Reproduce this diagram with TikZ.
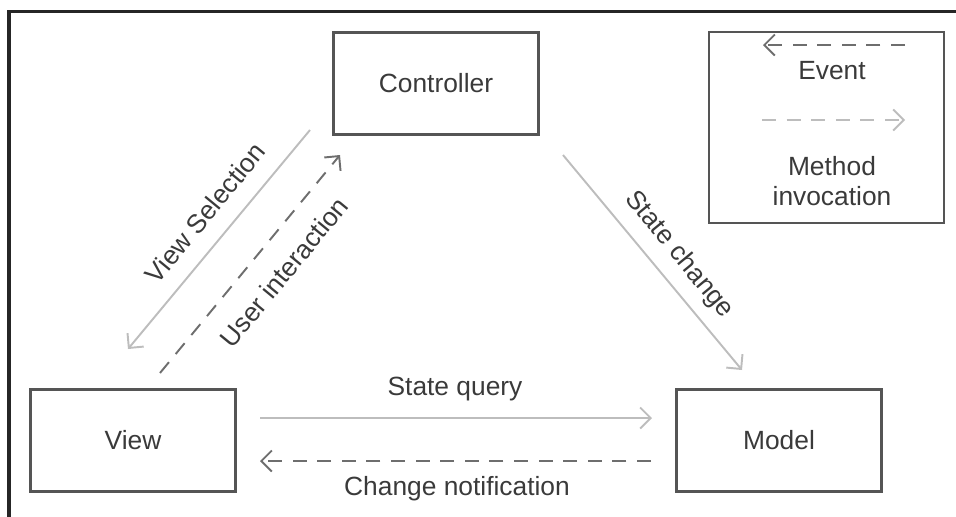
\documentclass[tikz,border=0pt]{standalone}
\usepackage{fontspec}
\setmainfont{Liberation Sans}
\usepackage{tikz}
\usetikzlibrary{arrows.meta}
\definecolor{boxgray}{HTML}{555555}
\definecolor{textgray}{HTML}{3A3A3A}
\definecolor{invokegray}{HTML}{BDBDBD}
\definecolor{eventgray}{HTML}{6E6E6E}
\tikzstyle{mvcblock} = [rectangle, draw=boxgray, line width=1.3pt, text=textgray,
    font=\fontsize{15}{17}\selectfont, minimum width=4.1cm, minimum height=2.04cm]
\tikzstyle{lbl} = [text=textgray, font=\fontsize{15}{17}\selectfont, inner sep=0pt]
\tikzstyle{invoke} = [draw=invokegray, line width=1.1pt, -{Straight Barb[length=6pt,width=12pt]}]
\tikzstyle{event} = [draw=eventgray, line width=1.1pt, dash pattern=on 8pt off 6pt,
    -{Straight Barb[length=6pt,width=12pt]}]

\begin{document}
\begin{tikzpicture}[x=0.2mm, y=-0.2mm]
    \useasboundingbox (0,0) rectangle (956,517);
    % frame
    \draw[line width=2pt, black!85] (9,517) -- (9,11.5) -- (956,11.5);
    % blocks
    \node [mvcblock] (controller) at (436,83.5) {Controller};
    \node [mvcblock] (view) at (133,440.5) {View};
    \node [mvcblock] (model) at (779,440.5) {Model};
    % legend
    \node [draw=boxgray, line width=1.3pt, minimum width=4.7cm, minimum height=3.82cm] (legend) at (826.5,127.5) {};
    \coordinate (ev-tail) at (905,45);
    \coordinate (ev-head) at (763,45);
    \coordinate (mi-tail) at (762,120);
    \coordinate (mi-head) at (905,120);
    \path[event] (ev-tail) -- (ev-head);
    \path[invoke, dash pattern=on 8pt off 6pt] (mi-tail) -- (mi-head);
    \node [lbl, anchor=base] (event-lbl) at (832,79) {Event};
    \node [lbl, align=center] (method-lbl) at (832,181) {Method\\invocation};
    % Draw edges
    \coordinate (vs-a) at (310,130);
    \coordinate (vs-b) at (128,349);
    \coordinate (ui-a) at (160,373);
    \coordinate (ui-b) at (340,155);
    \coordinate (sc-a) at (563,155);
    \coordinate (sc-b) at (742,370);
    \coordinate (sq-a) at (260,418);
    \coordinate (sq-b) at (652,418);
    \coordinate (cn-a) at (651,461);
    \coordinate (cn-b) at (260,461);
    \path[invoke] (vs-a) -- (vs-b);
    \path[event] (ui-a) -- (ui-b);
    \path[invoke] (sc-a) -- (sc-b);
    \path[invoke] (sq-a) -- (sq-b);
    \path[event] (cn-a) -- (cn-b);
    % edge labels
    \node [lbl, rotate=50.5] (vs-lbl) at (205,213) {View Selection};
    \node [lbl, rotate=50.5] (ui-lbl) at (284,272) {User interaction};
    \node [lbl, rotate=-50.5] (sc-lbl) at (679,255) {State change};
    \node [lbl, anchor=base] (sq-lbl) at (455,395) {State query};
    \node [lbl, anchor=base] (cn-lbl) at (457,495) {Change notification};
\end{tikzpicture}
\end{document}
